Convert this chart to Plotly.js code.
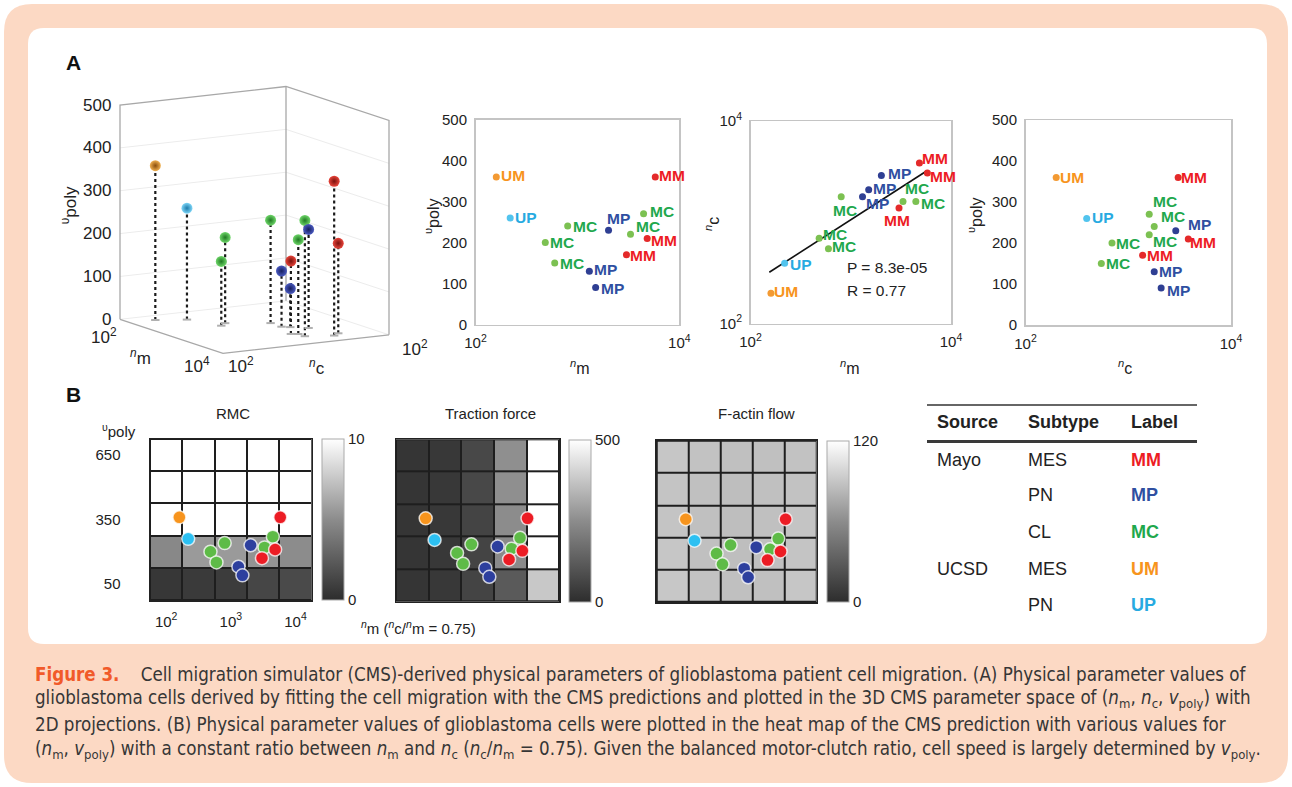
<!DOCTYPE html>
<html><head><meta charset="utf-8">
<script src="https://cdn.plot.ly/plotly-3.0.1.min.js"></script>
<style>html,body{margin:0;padding:0;background:#fff;}#chart{width:1292px;height:787px;}</style>
</head><body><div id="chart"></div>
<script>
// ---------------- data ----------------
const cellLabels = ['UM','UP','MC','MC','MC','MC','MC','MP','MP','MP','MM','MM','MM'];
const nM    = [160, 219, 803, 484, 599, 4460, 3320, 2020, 1310, 1510, 5810, 4840, 3030];
const nC    = [199, 394, 1790, 695, 547, 1600, 1600, 2900, 1790, 2090, 3060, 3840, 1380];
const vPoly = [360, 260, 240, 200, 150, 270, 220, 230, 130, 90, 360, 210, 170];
const fitLineNm = [154, 5660];
const fitLineNc = [321, 3190];
const fitStats = ['P = 8.3e-05', 'R = 0.77'];
const logRange = [100, 10000];
const logTickText = ['10<sup>2</sup>', '10<sup>4</sup>'];
const ncTickText3d = ['10<sup>2</sup>', '10<sup>2</sup>'];
const vRange = [0, 500];
const vTickVals = [0, 100, 200, 300, 400, 500];
const heatNmEdges = [56.2, 178, 562, 1780, 5620, 17800];
const heatVRows = [50, 200, 350, 500, 650];
const heatXTickVals = [100, 1000, 10000];
const heatXTickText = ['10<sup>2</sup>', '10<sup>3</sup>', '10<sup>4</sup>'];
const heatYTickVals = [50, 350, 650];
const rmcZ = [
  [0.5, 0.7, 0.8, 1.3, 1.5],
  [4.8, 5.6, 5.6, 5.3, 5.0],
  [10, 10, 10, 10, 10],
  [10, 10, 10, 10, 10],
  [10, 10, 10, 10, 10]];
const tractionZ = [
  [21, 29, 60, 118, 380],
  [21, 29, 60, 245, 500],
  [21, 29, 60, 250, 500],
  [21, 29, 71, 256, 500],
  [21, 29, 71, 256, 500]];
const factinZ = [
  [91, 88, 87, 87, 90],
  [90, 87, 86, 87, 89],
  [89, 87, 86, 87, 89],
  [89, 87, 86, 87, 88],
  [90, 88, 87, 87, 88]];
const heatTitles = ['RMC', 'Traction force', 'F-actin flow'];
const heatMax = [10, 500, 120];
const axisTitles = {nm: '<sup><i>n</i></sup>m', nc: '<sup><i>n</i></sup>c', v: '<sup>υ</sup>poly'};
const tableHeader = ['Source', 'Subtype', 'Label'];
const tableSource = ['Mayo', '', '', 'UCSD', ''];
const tableSubtype = ['MES', 'PN', 'CL', 'MES', 'PN'];
const tableLabel = ['MM', 'MP', 'MC', 'UM', 'UP'];
const captionLines = [
  '<span style="color:#f15a29"><b>Figure 3.</b></span>\u00a0\u00a0\u00a0\u00a0Cell migration simulator (CMS)-derived physical parameters of glioblastoma patient cell migration. (A) Physical parameter values of',
  'glioblastoma cells derived by fitting the cell migration with the CMS predictions and plotted in the 3D CMS parameter space of (<i>n</i><sub>m</sub>, <i>n</i><sub>c</sub>, <i>v</i><sub>poly</sub>) with',
  '2D projections. (B) Physical parameter values of glioblastoma cells were plotted in the heat map of the CMS prediction with various values for',
  '(<i>n</i><sub>m</sub>, <i>v</i><sub>poly</sub>) with a constant ratio between <i>n</i><sub>m</sub> and <i>n</i><sub>c</sub> (<i>n</i><sub>c</sub>/<i>n</i><sub>m</sub> = 0.75). Given the balanced motor-clutch ratio, cell speed is largely determined by <i>v</i><sub>poly</sub>.'
];

// ---------------- styles / layout constants ----------------
const W = 1292, H = 787;
const FONT = 'Liberation Sans, Arial, Helvetica, sans-serif';
const CAPFONT = 'Liberation Sans Narrow, DejaVu Sans Condensed, Arial Narrow, sans-serif';
const dotColor = {UM:'#f39a33', UP:'#52c4ee', MC:'#7cc152', MP:'#2f3f93', MM:'#e42a2a'};
const textColor = {UM:'#f7941d', UP:'#27aae1', MC:'#1fa84d', MP:'#2f4fa1', MM:'#ed1c24'};
const sphereLight = {UM:'#f0b050', UP:'#7fd6f7', MC:'#6fd66a', MP:'#4a5ac0', MM:'#e8443a'};
const sphereDark = {UM:'#8a4e0c', UP:'#1d7bab', MC:'#1f7a22', MP:'#161e5e', MM:'#7a100c'};
const heatDotColor = {UM:'#f7941d', UP:'#2cc0f2', MC:'#5ebb47', MP:'#2d3f9e', MM:'#ec1c24'};
// label offsets [dx, dy] in px (dy positive = down)
const offA2 = [[17,-1],[16,0],[17,0],[17,0],[17,0],[18,-2],[17,-8],[10,-12],[16,-2],[17,1],[17,-1],[17,2],[17,1]];
const offA3 = [[15,-2],[16,1],[4,14],[16,-4],[16,-2],[17,2],[14,-13],[18,-2],[15,7],[16,-1],[16,3],[16,-5],[-2,12]];
const offA4 = [[16,0],[16,-1],[19,-10],[16,0],[17,0],[16,-13],[16,7],[24,-6],[16,0],[17,2],[16,0],[15,4],[17,0]];
const grayScale = [[0,'#2d2d2d'],[0.5,'#8c8c8c'],[1,'#ffffff']];
// oblique (orthographic) view of the 3D box: pixel vectors for the full range of each axis
const view3d = {ox: 120, oy: 319.3, exx: 103, exy: 34, eyx: 166, eyy: -18.5, ezy: -214.3};

const dx = (a, b) => [a / W, b / W];
const dy = (top, bot) => [1 - bot / H, 1 - top / H];
const PX = v => v / W, PY = v => 1 - v / H;
const L10 = Math.log10;
function roundRect(x0, y0, x1, y1, r) {
  const X = v => (v / W).toFixed(5), Y = v => (1 - v / H).toFixed(5);
  return `M${X(x0 + r)},${Y(y0)} L${X(x1 - r)},${Y(y0)} Q${X(x1)},${Y(y0)} ${X(x1)},${Y(y0 + r)} ` +
    `L${X(x1)},${Y(y1 - r)} Q${X(x1)},${Y(y1)} ${X(x1 - r)},${Y(y1)} L${X(x0 + r)},${Y(y1)} ` +
    `Q${X(x0)},${Y(y1)} ${X(x0)},${Y(y1 - r)} L${X(x0)},${Y(y0 + r)} Q${X(x0)},${Y(y0)} ${X(x0 + r)},${Y(y0)} Z`;
}
// project (n_m, n_c, v_poly) onto the 2D panel plane
function proj(nm, nc, v) {
  const fx = (L10(nm) - L10(logRange[0])) / (L10(logRange[1]) - L10(logRange[0]));
  const fy = (L10(nc) - L10(logRange[0])) / (L10(logRange[1]) - L10(logRange[0]));
  const fz = (v - vRange[0]) / (vRange[1] - vRange[0]);
  return [view3d.ox + fx * view3d.exx + fy * view3d.eyx, view3d.oy + fx * view3d.exy + fy * view3d.eyy + fz * view3d.ezy];
}

const tickFont = {family: FONT, size: 15, color: '#222'};
const titleFont = {family: FONT, size: 16, color: '#222'};
const traces = [];
const annotations = [];

function scatter2d(xs, ys, xa, ya) {
  return {type: 'scatter', mode: 'markers', x: xs, y: ys, xaxis: xa, yaxis: ya,
    marker: {size: 7, color: cellLabels.map(l => dotColor[l])}, hoverinfo: 'skip', showlegend: false, cliponaxis: false};
}
function labelAnns(xa, ya, xs, ys, offs) {
  for (let i = 0; i < cellLabels.length; i++) {
    annotations.push({xref: xa, yref: ya, x: xs[i], y: ys[i], text: '<b>' + cellLabels[i] + '</b>', showarrow: false,
      xanchor: 'center', yanchor: 'middle', xshift: offs[i][0], yshift: -offs[i][1],
      font: {family: FONT, size: 15.5, color: textColor[cellLabels[i]]}});
  }
}
traces.push(scatter2d(nM, vPoly, 'x', 'y'));
labelAnns('x', 'y', nM.map(L10), vPoly, offA2);
traces.push({type: 'scatter', mode: 'lines', x: fitLineNm, y: fitLineNc, xaxis: 'x2', yaxis: 'y2',
  line: {color: '#111', width: 1.6}, hoverinfo: 'skip', showlegend: false});
traces.push(scatter2d(nM, nC, 'x2', 'y2'));
labelAnns('x2', 'y2', nM.map(L10), nC.map(L10), offA3);
traces.push(scatter2d(nC, vPoly, 'x3', 'y3'));
labelAnns('x3', 'y3', nC.map(L10), vPoly, offA4);

// ---- heat maps ----
const heatZ = [rmcZ, tractionZ, factinZ];
const cbX = [321.7, 569.3, 827.3];
const heatTop = [439, 439.3, 440.7], heatBot = [600, 601.7, 602];
for (let i = 0; i < 3; i++) {
  const k = i + 4;
  traces.push({
    type: 'heatmap', x: heatNmEdges, y: heatVRows, z: heatZ[i],
    xaxis: 'x' + k, yaxis: 'y' + k, zmin: 0, zmax: heatMax[i],
    colorscale: grayScale, xgap: 2, ygap: 2, hoverinfo: 'skip',
    colorbar: {x: PX(cbX[i]), xanchor: 'left', y: PY((heatTop[i] + heatBot[i]) / 2), yanchor: 'middle',
      len: (heatBot[i] - heatTop[i]) / H, lenmode: 'fraction', thickness: 22, xpad: 0, ypad: 0,
      outlinewidth: 1, outlinecolor: '#aaa', tickvals: [0, heatMax[i]], ticks: '',
      tickfont: {family: FONT, size: 15, color: '#222'}}
  });
  traces.push({
    type: 'scatter', mode: 'markers', x: nM, y: vPoly, xaxis: 'x' + k, yaxis: 'y' + k,
    marker: {size: 13, color: cellLabels.map(l => heatDotColor[l]), line: {color: 'rgba(255,255,255,0.75)', width: 1.5}},
    hoverinfo: 'skip', showlegend: false
  });
}

// ---- 3D view (orthographic projection drawn on a hidden 2D axis) ----
const a0 = logRange[0], a1 = logRange[1], z0 = vRange[0], z1 = vRange[1];
function seg(arrX, arrY, pts) { pts.forEach(p => { const q = proj(p[0], p[1], p[2]); arrX.push(q[0]); arrY.push(q[1]); }); arrX.push(null); arrY.push(null); }
const gX = [], gY = [];
vTickVals.slice(1, -1).forEach(v => { seg(gX, gY, [[a0, a0, v], [a0, a1, v], [a1, a1, v]]); });
seg(gX, gY, [[a0, a0, z0], [a0, a1, z0], [a1, a1, z0]]);
traces.push({type: 'scatter', mode: 'lines', x: gX, y: gY, xaxis: 'x7', yaxis: 'y7', line: {color: '#ececec', width: 1},
  hoverinfo: 'skip', showlegend: false, connectgaps: false});
const bX = [], bY = [];
seg(bX, bY, [[a0, a0, z0], [a0, a0, z1], [a0, a1, z1], [a1, a1, z1], [a1, a1, z0]]);
seg(bX, bY, [[a0, a1, z0], [a0, a1, z1]]);
seg(bX, bY, [[a0, a0, z0], [a1, a0, z0], [a1, a1, z0]]);
traces.push({type: 'scatter', mode: 'lines', x: bX, y: bY, xaxis: 'x7', yaxis: 'y7', line: {color: '#a8a8a8', width: 1.3},
  hoverinfo: 'skip', showlegend: false, connectgaps: false});
const sX = [], sY = [];
for (let i = 0; i < nM.length; i++) seg(sX, sY, [[nM[i], nC[i], z0], [nM[i], nC[i], vPoly[i]]]);
traces.push({type: 'scatter', mode: 'lines', x: sX, y: sY, xaxis: 'x7', yaxis: 'y7', line: {color: '#1a1a1a', width: 2.2, dash: 'dot'},
  hoverinfo: 'skip', showlegend: false, connectgaps: false});
const baseP = nM.map((m, i) => proj(m, nC[i], z0));
traces.push({type: 'scatter', mode: 'markers', x: baseP.map(p => p[0]), y: baseP.map(p => p[1]), xaxis: 'x7', yaxis: 'y7',
  marker: {size: 6, symbol: 'line-ew', color: '#b0b0b0', line: {color: '#b0b0b0', width: 2}}, hoverinfo: 'skip', showlegend: false});
const topP = nM.map((m, i) => proj(m, nC[i], vPoly[i]));
traces.push({type: 'scatter', mode: 'markers', x: topP.map(p => p[0]), y: topP.map(p => p[1]), xaxis: 'x7', yaxis: 'y7',
  marker: {size: 11, color: cellLabels.map(l => sphereLight[l]), gradient: {type: 'radial', color: cellLabels.map(l => sphereDark[l])}, line: {width: 0}},
  hoverinfo: 'skip', showlegend: false});
const f3d = {family: FONT, size: 17, color: '#222'};
function ann3(text, p, xs, ys, opts) {
  annotations.push(Object.assign({xref: 'x7', yref: 'y7', x: p[0], y: p[1], text: text, showarrow: false, xanchor: 'center', yanchor: 'middle',
    xshift: xs, yshift: -ys, font: f3d}, opts || {}));
}
vTickVals.forEach(v => ann3(String(v), proj(a0, a0, v), -7, 0, {xanchor: 'right'}));
ann3(logTickText[0], proj(a0, a0, z0), -16, 17);
ann3(logTickText[1], proj(a1, a0, z0), -26, 12);
ann3(ncTickText3d[0], proj(a1, a0, z0), 18, 12);
ann3(ncTickText3d[1], proj(a1, a1, z0), 26, 13);
ann3(axisTitles.nm, proj(1000, a0, z0), -31, 21);
ann3(axisTitles.nc, proj(a1, 1000, z0), 11, 23);
ann3(axisTitles.v, proj(a0, a0, 250), -51, -7, {textangle: -90});

function axis2d(domain, anchor, extra) {
  return Object.assign({domain: domain, anchor: anchor, showline: true, mirror: true, linecolor: '#c4c4c4',
    linewidth: 1.5, showgrid: false, zeroline: false, ticks: 'outside', ticklen: 4, tickcolor: 'rgba(0,0,0,0)',
    tickfont: tickFont, automargin: false, fixedrange: true}, extra);
}
const logX = {type: 'log', range: [L10(logRange[0]), L10(logRange[1])], tickvals: logRange, ticktext: logTickText};
const vY = {range: vRange, tickvals: vTickVals};

const layout = {
  width: W, height: H, margin: {l: 0, r: 0, t: 0, b: 0},
  paper_bgcolor: '#ffffff', plot_bgcolor: 'rgba(0,0,0,0)',
  font: {family: FONT, color: '#222'}, showlegend: false,
  xaxis: axis2d(dx(475.5, 679.3), 'y', logX),
  yaxis: axis2d(dy(119.5, 324.5), 'x', vY),
  xaxis2: axis2d(dx(750.5, 951), 'y2', logX),
  yaxis2: axis2d(dy(121, 323.5), 'x2', logX),
  xaxis3: axis2d(dx(1025.5, 1231), 'y3', logX),
  yaxis3: axis2d(dy(120, 325), 'x3', vY),
  xaxis7: {domain: dx(40, 440), range: [40, 440], visible: false, fixedrange: true, anchor: 'y7'},
  yaxis7: {domain: dy(60, 400), range: [400, 60], visible: false, fixedrange: true, anchor: 'x7'},
  shapes: [
    {type: 'path', xref: 'paper', yref: 'paper', path: roundRect(4, 4, 1288, 783, 28), fillcolor: '#fcd9c4', line: {width: 0}, layer: 'below'},
    {type: 'path', xref: 'paper', yref: 'paper', path: roundRect(28, 28, 1267, 644, 16), fillcolor: '#ffffff', line: {width: 0}, layer: 'below'},
    {type: 'line', xref: 'paper', yref: 'paper', x0: PX(927), x1: PX(1197), y0: PY(405), y1: PY(405), line: {color: '#333', width: 1.6}},
    {type: 'line', xref: 'paper', yref: 'paper', x0: PX(927), x1: PX(1197), y0: PY(441.5), y1: PY(441.5), line: {color: '#3a3a3a', width: 3}}
  ],
  annotations: annotations
};

const heatDom = [[150, 311.7], [396, 559.3], [656.7, 816.7]];
for (let i = 0; i < 3; i++) {
  const k = i + 4;
  layout['xaxis' + k] = {domain: dx(heatDom[i][0], heatDom[i][1]), anchor: 'y' + k, type: 'log', range: [L10(heatNmEdges[0]), L10(heatNmEdges[5])],
    showline: true, mirror: true, linecolor: '#222', linewidth: 1.5, showgrid: false, zeroline: false,
    tickvals: heatXTickVals, ticktext: heatXTickText, showticklabels: i === 0, ticks: 'outside', ticklen: 7,
    tickcolor: 'rgba(0,0,0,0)', tickfont: tickFont, automargin: false, fixedrange: true};
  layout['yaxis' + k] = {domain: dy(heatTop[i], heatBot[i]), anchor: 'x' + k, range: [-25, 725],
    showline: true, mirror: true, linecolor: '#222', linewidth: 1.5, showgrid: false, zeroline: false,
    tickvals: heatYTickVals, showticklabels: i === 0, ticks: 'outside', ticklen: 25,
    tickcolor: 'rgba(0,0,0,0)', tickfont: tickFont, automargin: false, fixedrange: true};
  layout.shapes.push({type: 'rect', xref: 'x' + k + ' domain', yref: 'y' + k + ' domain', x0: 0, x1: 1, y0: 0, y1: 1,
    fillcolor: '#1e1e1e', line: {width: 0}, layer: 'below'});
}

function ann(text, x, y, opts) {
  annotations.push(Object.assign({text: text, x: PX(x), y: PY(y), xref: 'paper', yref: 'paper',
    showarrow: false, xanchor: 'center', yanchor: 'middle', font: {family: FONT, size: 15, color: '#222'}}, opts || {}));
}
// panel A axis titles
ann(axisTitles.nm, 580, 367, {font: titleFont});
ann(axisTitles.v, 432, 216, {font: titleFont, textangle: -90});
ann(axisTitles.nm, 850, 367, {font: titleFont});
ann(axisTitles.nc, 712, 224, {font: titleFont, textangle: -90});
ann(axisTitles.nc, 1125, 367, {font: titleFont});
ann(axisTitles.v, 975, 216, {font: titleFont, textangle: -90});

ann('<b>A</b>', 73, 63, {font: {family: FONT, size: 21, color: '#111'}});
ann('<b>B</b>', 73, 395, {font: {family: FONT, size: 21, color: '#111'}});
ann(fitStats[0], 845, 267, {xanchor: 'left', font: {family: FONT, size: 15.5, color: '#222'}});
ann(fitStats[1], 845, 291, {xanchor: 'left', font: {family: FONT, size: 15.5, color: '#222'}});
const heatTitleX = [232.5, 490, 756];
for (let i = 0; i < 3; i++) ann(heatTitles[i], heatTitleX[i], 413);
ann(axisTitles.v, 119, 430);
ann('<sup><i>n</i></sup>m (<sup><i>n</i></sup>c/<sup><i>n</i></sup>m = 0.75)', 359, 627, {xanchor: 'left'});

const tblFont = {family: FONT, size: 18, color: '#222'};
const colX = [935, 1026, 1128.5];
for (let c = 0; c < 3; c++) ann('<b>' + tableHeader[c] + '</b>', colX[c], 422, {xanchor: 'left', font: tblFont});
const rowY = [460, 495, 531.5, 568.5, 604.5];
for (let r = 0; r < 5; r++) {
  if (tableSource[r]) ann(tableSource[r], colX[0], rowY[r], {xanchor: 'left', font: tblFont});
  ann(tableSubtype[r], colX[1], rowY[r], {xanchor: 'left', font: tblFont});
  ann('<b>' + tableLabel[r] + '</b>', colX[2], rowY[r], {xanchor: 'left', font: {family: FONT, size: 18, color: textColor[tableLabel[r]]}});
}
const capY = [674, 699, 724.5, 750];
for (let i = 0; i < 4; i++) ann(captionLines[i], 33, capY[i], {xanchor: 'left', font: {family: CAPFONT, size: 18.6, color: '#363636'}});

Plotly.newPlot('chart', traces, layout, {displayModeBar: false, staticPlot: true});
</script></body></html>
